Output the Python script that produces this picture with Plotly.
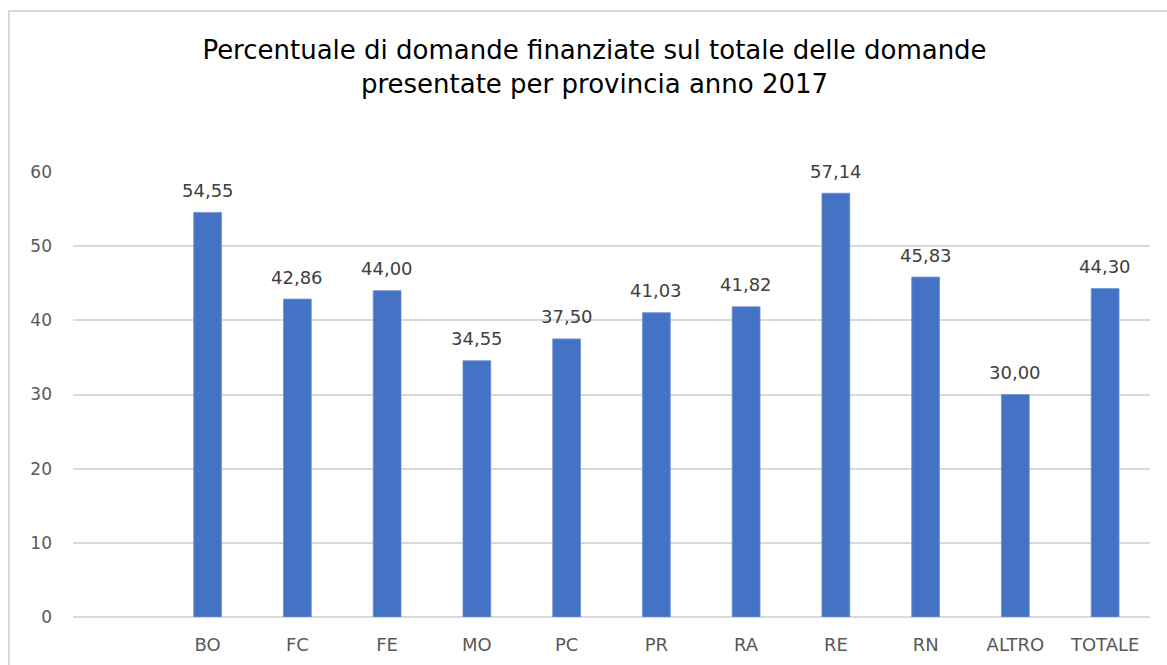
import plotly.graph_objects as go

categories = ["BO", "FC", "FE", "MO", "PC", "PR", "RA", "RE", "RN", "ALTRO", "TOTALE"]
values = [54.55, 42.86, 44.00, 34.55, 37.50, 41.03, 41.82, 57.14, 45.83, 30.00, 44.30]
axis_order = [" "] + categories
title_lines = ["Percentuale di domande finanziate sul totale delle domande",
               "presentate per provincia anno 2017"]

W, H = 1167, 665
L, R, T, B = 73, 17, 172, 48
pw, ph = W - L - R, H - T - B
FONT = "DejaVu Sans"

fig = go.Figure(go.Bar(
    x=categories, y=values,
    marker=dict(color="#4472C4", line=dict(color="#6f93d6", width=0.8)),
    width=0.31,
    cliponaxis=False,
))

for c, v in zip(categories, values):
    fig.add_annotation(x=c, y=v, xref="x", yref="y",
                       text=f"{v:.2f}".replace(".", ","), showarrow=False,
                       yanchor="middle", xanchor="center", yshift=22,
                       font=dict(family=FONT, size=18, color="#404040"))

fig.update_layout(
    width=W, height=H,
    margin=dict(l=L, r=R, t=T, b=B),
    paper_bgcolor="white", plot_bgcolor="white",
    separators=",.",
    showlegend=False,
    title=dict(text="<br>".join(title_lines), x=(594.5 - L) / pw, xref="paper",
               xanchor="center", y=1 - 59 / H, yanchor="middle",
               font=dict(family=FONT, size=26, color="#000000")),
    xaxis=dict(type="category", categoryorder="array", categoryarray=axis_order,
               range=[-0.5, 11.5], showgrid=False, showline=False, ticks="",
               tickfont=dict(family=FONT, size=18, color="#595959"),
               ticklabelstandoff=15, automargin=False),
    yaxis=dict(range=[0, 60], dtick=10, showgrid=True, gridcolor="#d9d9d9",
               gridwidth=1.5, zeroline=True, zerolinecolor="#d9d9d9", zerolinewidth=1.5,
               showline=False, ticks="", automargin=False,
               tickfont=dict(family=FONT, size=17, color="#595959"),
               ticklabelstandoff=20),
    shapes=[dict(type="rect", xref="paper", yref="paper",
                 x0=(9 - L) / pw, x1=(W + 10 - L) / pw,
                 y0=-(H + 10 - T - ph) / ph, y1=1 + (T - 11) / ph,
                 line=dict(color="#d9d9d9", width=2), fillcolor="rgba(0,0,0,0)")],
)

fig.write_html("out.html", config={"displayModeBar": False},
               post_script="document.body.style.margin='0';document.body.style.overflow='hidden';")
